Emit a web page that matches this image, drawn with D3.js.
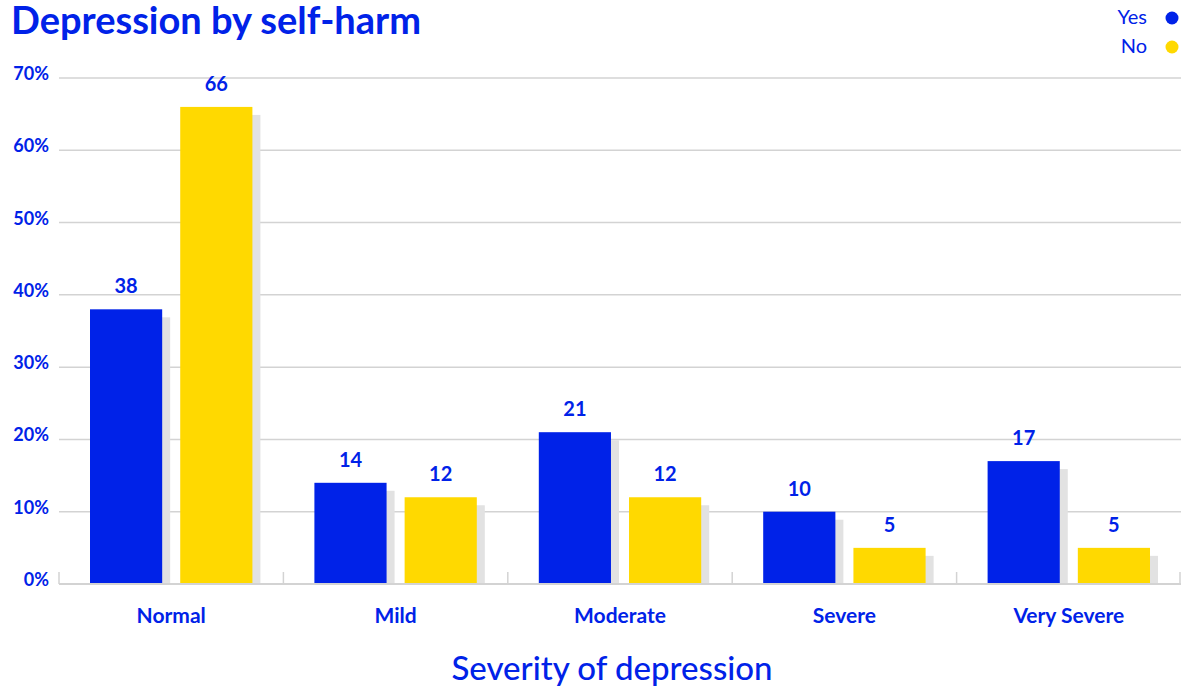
<!DOCTYPE html>
<html>
<head>
<meta charset="utf-8">
<script src="https://cdn.jsdelivr.net/npm/d3@7"></script>
<style>
  body { margin: 0; background: #fff; }
  svg { display: block; font-family: Lato, "Noto Sans", sans-serif; }
</style>
</head>
<body>
<svg width="1181" height="686"></svg>
<script>
const categories = ["Normal", "Mild", "Moderate", "Severe", "Very Severe"];
const seriesNames = ["Yes", "No"];
const yesValues = [38, 14, 21, 10, 17];
const noValues = [66, 12, 12, 5, 5];
const yTicks = [0, 10, 20, 30, 40, 50, 60, 70];

const blue = "#0022e8", yellow = "#ffd900";
const color = d3.scaleOrdinal(seriesNames, [blue, yellow]);

const svg = d3.select("svg");
const margin = {left: 59, right: 0, top: 78, bottom: 102};
const width = 1181, height = 686;

const x = d3.scaleBand().domain(categories).range([margin.left, width - margin.right]);
const x1 = d3.scaleBand().domain(seriesNames).range([31, x.bandwidth() - 31]).paddingInner(0.2);
const y = d3.scaleLinear().domain([0, 70]).range([height - margin.bottom, margin.top]);

// title
svg.append("text")
    .attr("x", 11).attr("y", 34)
    .attr("fill", blue)
    .attr("font-size", 38).attr("font-weight", 700)
    .text("Depression by self-harm");

// grid
svg.append("g")
    .selectAll("line")
    .data(yTicks)
    .join("line")
    .attr("x1", margin.left).attr("x2", width)
    .attr("y1", d => y(d)).attr("y2", d => y(d))
    .attr("stroke", "#d3d3d3").attr("stroke-width", 1.5);

// y labels
svg.append("g")
    .selectAll("text")
    .data(yTicks)
    .join("text")
    .attr("x", 49)
    .attr("y", d => y(d) + 2)
    .attr("text-anchor", "end")
    .attr("fill", blue)
    .attr("font-size", 18).attr("font-weight", 700)
    .text(d => d + "%");

// x tick marks at band edges
const edges = categories.map(c => x(c)).concat([width - 1]);
svg.append("g")
    .selectAll("line")
    .data(edges)
    .join("line")
    .attr("x1", d => d).attr("x2", d => d)
    .attr("y1", y(0) - 12).attr("y2", y(0))
    .attr("stroke", "#d3d3d3").attr("stroke-width", 1.5);

const rows = categories.map((c, i) => ({cat: c, values: [
    {key: "Yes", value: yesValues[i]},
    {key: "No", value: noValues[i]}
]}));

const groups = svg.append("g")
    .selectAll("g")
    .data(rows)
    .join("g")
    .attr("transform", d => `translate(${x(d.cat)},0)`);

// shadows
groups.selectAll("rect.shadow")
    .data(d => d.values)
    .join("rect")
    .attr("class", "shadow")
    .attr("x", d => x1(d.key) + 8)
    .attr("y", d => y(d.value) + 8)
    .attr("width", x1.bandwidth())
    .attr("height", d => y(0) - y(d.value) - 8)
    .attr("fill", "#e2e2e2");

groups.selectAll("rect.bar")
    .data(d => d.values)
    .join("rect")
    .attr("class", "bar")
    .attr("x", d => x1(d.key))
    .attr("y", d => y(d.value))
    .attr("width", x1.bandwidth())
    .attr("height", d => y(0) - y(d.value))
    .attr("fill", d => color(d.key));

groups.selectAll("text")
    .data(d => d.values)
    .join("text")
    .attr("x", d => x1(d.key) + x1.bandwidth() / 2)
    .attr("y", d => y(d.value) - 16)
    .attr("text-anchor", "middle")
    .attr("fill", blue)
    .attr("font-size", 20).attr("font-weight", 700)
    .text(d => d.value);

// baseline
svg.append("line")
    .attr("x1", margin.left).attr("x2", width)
    .attr("y1", y(0)).attr("y2", y(0))
    .attr("stroke", "#d3d3d3").attr("stroke-width", 2);

// category labels
svg.append("g")
    .selectAll("text")
    .data(categories)
    .join("text")
    .attr("x", d => x(d) + x.bandwidth() / 2)
    .attr("y", 623)
    .attr("text-anchor", "middle")
    .attr("fill", blue)
    .attr("font-size", 21).attr("font-weight", 700)
    .text(d => d);

// axis title
svg.append("text")
    .attr("x", 612).attr("y", 680)
    .attr("text-anchor", "middle")
    .attr("fill", blue)
    .attr("font-size", 33).attr("font-weight", 500)
    .text("Severity of depression");

// legend
const legend = svg.append("g")
    .selectAll("g")
    .data(seriesNames)
    .join("g")
    .attr("transform", (d, i) => `translate(0,${18 + i * 29})`);
legend.append("circle")
    .attr("cx", 1172).attr("cy", 0).attr("r", 6.5)
    .attr("fill", d => color(d));
legend.append("text")
    .attr("x", 1147).attr("y", 6)
    .attr("text-anchor", "end")
    .attr("fill", blue)
    .attr("font-size", 20)
    .text(d => d);
</script>
</body>
</html>
